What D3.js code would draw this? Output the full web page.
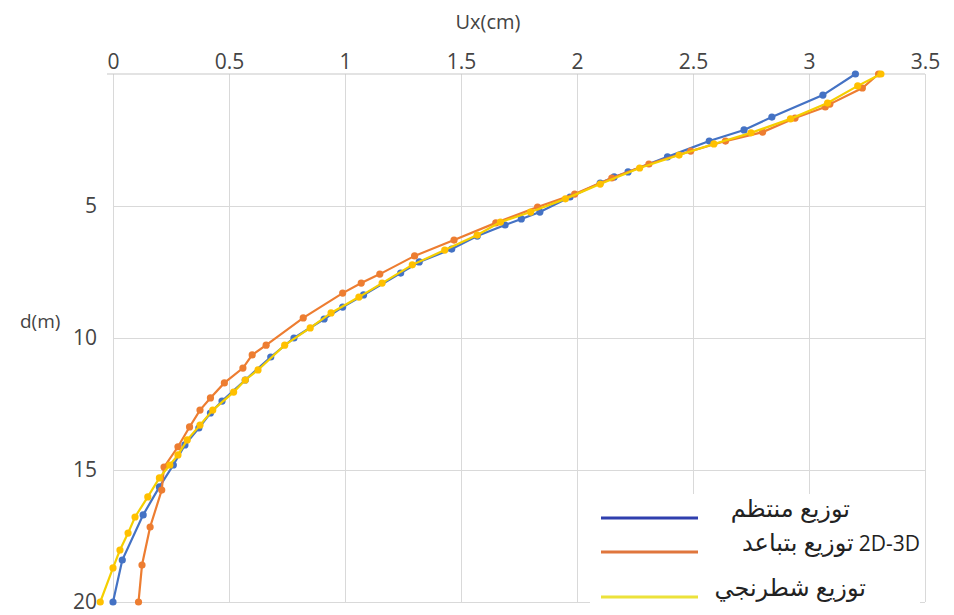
<!DOCTYPE html>
<html>
  <head>
    <meta charset="utf-8" />
    <style>
      body { margin: 0; background: #fff; }
      svg { display: block; font-family: "Open Sans", "DejaVu Sans", sans-serif; }
      .grid line { stroke: #d9d9d9; stroke-width: 1; }
      .grid .domain { display: none; }
      .tick text { fill: #444; font-size: 21px; font-family: "Open Sans", sans-serif; }
    </style>
  </head>
  <body>
    <script src="https://d3js.org/d3.v7.min.js"></script>
    <script>
      // ticks
      const xTicks = [0, 0.5, 1, 1.5, 2, 2.5, 3, 3.5];
      const yTicks = [5, 10, 15, 20];

      // series: Ux (cm) against depth d (m)
      const blueUx = [3.2, 3.06, 2.84, 2.72, 2.57, 2.39, 2.22, 2.16, 2.1, 1.97, 1.84, 1.76, 1.69, 1.57, 1.46, 1.32, 1.24, 1.08, 0.99, 0.91, 0.78, 0.68, 0.57, 0.47, 0.42, 0.37, 0.31, 0.26, 0.2, 0.13, 0.04, 0.0];
      const blueD = [0, 0.8, 1.63, 2.12, 2.54, 3.14, 3.71, 3.9, 4.13, 4.66, 5.23, 5.49, 5.72, 6.14, 6.63, 7.12, 7.54, 8.37, 8.83, 9.28, 10.0, 10.72, 11.59, 12.39, 12.84, 13.41, 14.05, 14.81, 15.64, 16.7, 18.41, 20.0];

      const orangeUx = [3.3, 3.23, 3.09, 3.07, 2.94, 2.8, 2.64, 2.49, 2.31, 2.15, 1.99, 1.83, 1.65, 1.47, 1.3, 1.15, 1.07, 0.99, 0.82, 0.66, 0.6, 0.56, 0.48, 0.42, 0.375, 0.33, 0.28, 0.22, 0.21, 0.16, 0.125, 0.11];
      const orangeD = [0, 0.53, 1.14, 1.25, 1.67, 2.2, 2.54, 2.92, 3.41, 3.94, 4.55, 5.04, 5.64, 6.29, 6.89, 7.58, 7.92, 8.3, 9.24, 10.27, 10.64, 11.14, 11.7, 12.27, 12.73, 13.37, 14.12, 14.89, 15.76, 17.16, 18.6, 20.0];

      const yellowUx = [3.31, 3.21, 3.08, 2.92, 2.75, 2.59, 2.44, 2.27, 2.1, 1.95, 1.8, 1.67, 1.57, 1.43, 1.29, 1.16, 1.06, 0.94, 0.85, 0.74, 0.625, 0.57, 0.52, 0.43, 0.375, 0.32, 0.28, 0.245, 0.2, 0.15, 0.095, 0.065, 0.03, 0.0, -0.055];
      const yellowD = [0, 0.45, 1.1, 1.7, 2.23, 2.65, 3.07, 3.56, 4.17, 4.73, 5.23, 5.61, 6.1, 6.67, 7.23, 7.92, 8.45, 9.05, 9.62, 10.27, 11.21, 11.59, 12.05, 12.73, 13.3, 13.86, 14.43, 14.81, 15.3, 16.02, 16.78, 17.39, 18.03, 18.71, 20.0];

      // legend labels: Arabic part + latin suffix (drawn separately to keep bidi order)
      const seriesNames = ["توزيع منتظم", "توزيع بتباعد", "توزيع شطرنجي"];
      const seriesSuffix = ["", "2D-3D", ""];

      const series = [
        { ux: blueUx, d: blueD, line: "#4472c4", marker: "#4472c4", legend: "#2f3fae" },
        { ux: orangeUx, d: orangeD, line: "#ed7d31", marker: "#ed7d31", legend: "#e0763d" },
        { ux: yellowUx, d: yellowD, line: "#f5cf00", marker: "#ffc000", legend: "#ece23a" },
      ];

      const width = 954, height = 615;
      const svg = d3.select("body").append("svg").attr("width", width).attr("height", height);

      const x = d3.scaleLinear().domain([0, 3.5]).range([113, 925]);
      const y = d3.scaleLinear().domain([0, 20]).range([74, 602]);

      // vertical grid + top axis labels
      const xAxis = svg.append("g")
        .attr("class", "grid")
        .attr("transform", "translate(0," + y(0) + ")")
        .call(d3.axisTop(x).tickValues(xTicks).tickSize(-(y(20) - y(0))).tickPadding(5).tickFormat(d3.format("~g")));
      xAxis.selectAll(".tick line").attr("y1", 0);

      // horizontal grid + left labels
      svg.append("g")
        .attr("class", "grid")
        .attr("transform", "translate(" + x(0) + ",0)")
        .call(d3.axisLeft(y).tickValues(yTicks).tickSize(-(x(3.5) - x(0))).tickPadding(16).tickFormat(d3.format("~g")));

      // axis line at top
      svg.append("line")
        .attr("x1", x(0) - 6).attr("x2", x(3.5))
        .attr("y1", y(0)).attr("y2", y(0))
        .attr("stroke", "#c8c8c8").attr("stroke-width", 1.2);

      // titles
      svg.append("text").attr("x", 488).attr("y", 29)
        .attr("text-anchor", "middle").attr("fill", "#444").style("font-size", "20px")
        .text("Ux(cm)");
      svg.append("text").attr("x", 20).attr("y", 328)
        .attr("fill", "#444").style("font-size", "19px")
        .text("d(m)");

      // curves
      const line = d3.line().x((p) => x(p[0])).y((p) => y(p[1]));

      series.forEach((s) => {
        const pts = s.ux.map((v, i) => [v, s.d[i]]);
        const g = svg.append("g");
        g.append("path")
          .datum(pts)
          .attr("d", line)
          .attr("fill", "none")
          .attr("stroke", s.line)
          .attr("stroke-width", 2.2);
        g.selectAll("circle")
          .data(pts)
          .enter()
          .append("circle")
          .attr("cx", (p) => x(p[0]))
          .attr("cy", (p) => y(p[1]))
          .attr("r", 3.6)
          .attr("fill", s.marker);
      });

      // legend
      const legend = svg.append("g");
      legend.append("rect")
        .attr("x", 590).attr("y", 494).attr("width", 330).attr("height", 121)
        .attr("fill", "#fff");
      const legendY = [518, 552, 597];
      const textEnd = [850, 920, 866];
      series.forEach((s, i) => {
        legend.append("line")
          .attr("x1", 601).attr("x2", 698)
          .attr("y1", legendY[i]).attr("y2", legendY[i])
          .attr("stroke", s.legend).attr("stroke-width", 3);
        let end = textEnd[i];
        if (seriesSuffix[i]) {
          const suf = legend.append("text")
            .attr("x", end).attr("y", legendY[i] - 1)
            .attr("text-anchor", "end")
            .attr("fill", "#222")
            .style("font-size", "21px")
            .text(seriesSuffix[i]);
          end -= suf.node().getComputedTextLength() + 5;
        }
        legend.append("text")
          .attr("x", end).attr("y", legendY[i] - 1)
          .attr("text-anchor", "end")
          .attr("fill", "#222")
          .style("font-size", "24px")
          .text(seriesNames[i]);
      });
    </script>
  </body>
</html>
